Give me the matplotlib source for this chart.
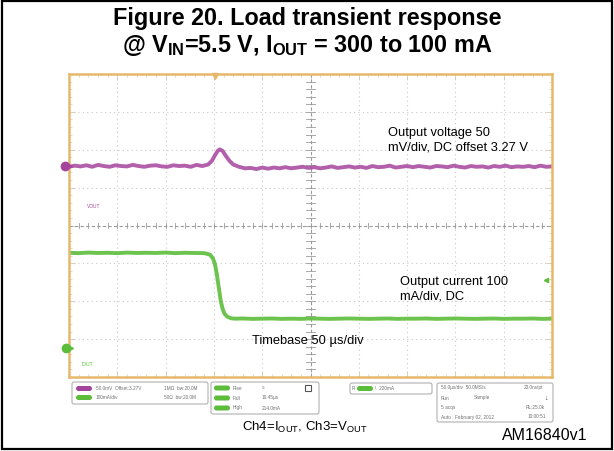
import numpy as np
import matplotlib
matplotlib.use("Agg")
import matplotlib.pyplot as plt
from matplotlib.patches import Rectangle, FancyBboxPatch

plt.rcParams['font.family'] = ['Liberation Sans', 'DejaVu Sans']
plt.rcParams['mathtext.fontset'] = 'custom'
plt.rcParams['mathtext.rm'] = 'Liberation Sans'
plt.rcParams['mathtext.bf'] = 'Liberation Sans:bold'

# scope traces, time in us
vout_t = [0, 6, 12, 18, 24, 30, 36, 42, 48, 54, 60, 66, 72, 78, 84, 90, 96, 102, 108, 114,
          120, 126, 132, 138, 144,
          148, 151, 154, 156, 159, 162, 166, 170,
          176, 182, 188, 194, 200, 206, 212, 218, 224, 230, 236, 242, 248, 254, 260, 266,
          272, 278, 284, 290, 296, 302, 308, 314, 320, 326, 332, 338, 344, 350, 356, 362,
          368, 374, 380, 386, 392, 398, 404, 410, 416, 422, 428, 434, 440, 446, 452, 458,
          464, 470, 476, 482, 488, 494, 500]
# deviation from 3.27 V offset, mV
vout_mv = [0, 1.5, 0.5, 2, 0, 2.5, 1, 0, 2, 1, 0.5, 2.5, 1, 0, 1.5, 2, 0.5, 0, 2, 1,
           1.5, 0, 2.5, 1, 3,
           8, 15, 21, 23, 21, 15, 8, 3,
           0, -2, -1.5, -3, -1, -2.5, -1, -2, -0.5, -2, -1, 0, -1.5, -0.5, -2, -1,
           0.5, -1.5, -0.5, 0.5, -1, 0, -1.5, 1, -0.5, 0, 1.5, -1, 0, 1, -0.5, 1,
           0, -1, 1, 0.5, -0.5, 1.5, 0, -1, 1, 0, 0.5, -1, 1, 0, 1.5, -0.5,
           0.5, 0, 1, -0.5, 1.5, 0, 0.5]

iout_t = [0, 10, 20, 30, 40, 50, 60, 70, 80, 90, 100, 110, 120, 130, 140,
          146, 149, 151, 153, 155, 157, 159, 161, 164, 168,
          172, 180, 190, 200, 210, 220, 230, 240, 250, 260, 270, 280, 290, 300, 310, 320,
          330, 340, 350, 360, 370, 380, 390, 400, 410, 420, 430, 440, 450, 460, 470, 480,
          490, 500]
iout_ma = [251, 250, 251.5, 250.5, 251, 250, 251.5, 250.5, 251, 250.5, 251.5, 250, 251, 250.5, 250,
           246, 236, 222, 195, 160, 125, 103, 90, 82, 78,
           77, 77.5, 76.5, 77, 77.5, 76.5, 77, 76.5, 77.5, 77, 76.5, 77, 77.5, 77, 76.5, 77,
           77.5, 76.5, 77, 77, 77.5, 76.5, 77, 77.5, 77, 76.5, 77, 77.5, 76.5, 77, 77,
           77.5, 76.5, 77]

V_PER_DIV = 50.0
I_PER_DIV = 100.0
V_POS = 1.55
I_POS = -3.23

W, H = 614, 451
fig = plt.figure(figsize=(W / 100, H / 100), dpi=100)

ORANGE = '#e6b86a'
PURPLE = '#a5449c'
GREEN = '#5cbd3a'

# scope screen
ax = fig.add_axes([69 / W, (H - 377) / H, 483 / W, 303 / H])
ax.set_xlim(0, 500)
ax.set_ylim(-4, 4)
for s in ax.spines.values():
    s.set_color(ORANGE)
    s.set_linewidth(1.8)
ax.set_xticks(np.arange(0, 501, 50))
ax.set_xticks(np.arange(0, 501, 10), minor=True)
ax.set_yticks(np.arange(-4, 5, 1))
ax.set_yticks(np.arange(-4, 4.01, 0.2), minor=True)
ax.tick_params(which='both', direction='in', color='#d9c9a8', labelbottom=False,
               labelleft=False, top=True, right=True)
ax.tick_params(which='major', length=4, width=0.6)
ax.tick_params(which='minor', length=2, width=0.5)

for x in range(50, 500, 50):
    if x == 250:
        continue
    ax.axvline(x, color='#c8c8c8', lw=0.8, ls=(0, (1, 3)))
for y in range(-3, 4):
    if y == 0:
        continue
    ax.axhline(y, color='#c8c8c8', lw=0.8, ls=(0, (1, 3)))
ax.axvline(250, color='#9a9a9a', lw=0.8, ls=(0, (3, 2)))
ax.axhline(0, color='#9a9a9a', lw=0.8, ls=(0, (3, 2)))
for x in np.arange(10, 500, 10):
    ax.plot([x, x], [-0.06, 0.06], color='#9a9a9a', lw=0.6)
for y in np.arange(-3.8, 4, 0.2):
    ax.plot([245, 255], [y, y], color='#9a9a9a', lw=0.6)

vdiv = V_POS + np.array(vout_mv) / V_PER_DIV
idiv = I_POS + np.array(iout_ma) / I_PER_DIV
ax.plot(vout_t, vdiv, color=PURPLE, lw=2.8, alpha=0.85, solid_capstyle='round')
ax.plot(iout_t, idiv, color=GREEN, lw=2.8, alpha=0.9, solid_capstyle='round')

# overlay in pixel coordinates
ov = fig.add_axes([0, 0, 1, 1], zorder=5)
ov.set_xlim(0, W)
ov.set_ylim(H, 0)
ov.axis('off')
ov.patch.set_visible(False)

ov.add_patch(Rectangle((1.5, 1), 610, 448, fill=False, ec='black', lw=1.6))

ov.text(307, 18, 'Figure 20. Load transient response', ha='center', va='center',
        fontsize=16.8, fontweight='bold')
ov.text(307, 45, r'@ V$_{\mathbf{IN}}$=5.5 V, I$_{\mathbf{OUT}}$ = 300 to 100 mA', ha='center',
        va='center', fontsize=16.8, fontweight='bold')

# channel markers
ov.plot(65, 166, 'o', ms=6, color=PURPLE)
ov.plot(69, 166, '>', ms=4, color=PURPLE)
ov.plot(66, 348, 'o', ms=6, color=GREEN)
ov.plot(70, 348, '>', ms=4, color=GREEN)
ov.plot(215, 76, 'v', ms=4, color=ORANGE)
ov.plot(546, 280, '<', ms=3, color=GREEN)
ov.text(87, 207, 'VOUT', fontsize=3.5, color=PURPLE, va='center')
ov.text(82, 364, 'IOUT', fontsize=3.5, color=GREEN, va='center')

ov.text(388, 127, 'Output voltage 50\nmV/div, DC offset 3.27 V', fontsize=9.3,
        va='top', linespacing=1.25)
ov.text(400, 276, 'Output current 100\nmA/div, DC', fontsize=9.3,
        va='top', linespacing=1.25)
ov.text(252, 341, 'Timebase 50 \u00b5s/div', fontsize=9.3, va='center')

# info panel
def box(x0, y0, x1, y1):
    ov.add_patch(FancyBboxPatch((x0, y0), x1 - x0, y1 - y0,
                                boxstyle='round,pad=0,rounding_size=2',
                                fc='white', ec='#b0b0b0', lw=0.8))

def pill(x, y, c):
    ov.add_patch(FancyBboxPatch((x, y - 2.5), 16, 5, boxstyle='round,pad=0,rounding_size=2.5',
                                fc=c, ec='none'))

tc = '#707070'
fs = 3.4
box(72, 382, 208, 404)
pill(76, 388.5, PURPLE)
pill(76, 397.5, GREEN)
ov.text(96, 388.5, '50.0mV  Offset:3.27V', fontsize=fs, color=tc, va='center')
ov.text(164, 388.5, '1M\u03a9  bw:20.0M', fontsize=fs, color=tc, va='center')
ov.text(96, 397.5, '100mA/div', fontsize=fs, color=tc, va='center')
ov.text(164, 397.5, '50\u03a9  bw:20.0M', fontsize=fs, color=tc, va='center')

box(211, 382, 319, 414)
for yy, lab, val in [(388, 'Rise', '\u2248'), (398, 'Fall', '10.45\u00b5s'), (408, 'High', '214.0mA')]:
    pill(214, yy, GREEN)
    ov.text(233, yy, lab, fontsize=fs, color=tc, va='center')
    ov.text(262, yy, val, fontsize=fs, color=tc, va='center')
ov.add_patch(Rectangle((305, 385), 6, 6, fill=False, ec='#555555', lw=0.8))

box(350, 383, 432, 394)
ov.text(352, 388.5, 'R', fontsize=fs, color=tc, va='center')
pill(357, 388.5, GREEN)
ov.text(375, 388.5, '\\  220mA', fontsize=fs, color=tc, va='center')

box(437, 383, 553, 422)
ov.text(441, 388, '50.0\u00b5s/div  50.0MS/s', fontsize=fs, color=tc, va='center')
ov.text(524, 388, '20.0ns/pt', fontsize=fs, color=tc, va='center')
ov.text(441, 398, 'Run', fontsize=fs, color=tc, va='center')
ov.text(474, 398, 'Sample', fontsize=fs, color=tc, va='center')
ov.text(546, 398, '\u2193', fontsize=5, color='#333333', va='center', ha='center')
ov.text(441, 407.5, '5 acqs', fontsize=fs, color=tc, va='center')
ov.text(526, 407.5, 'RL:25.0k', fontsize=fs, color=tc, va='center')
ov.text(441, 417, 'Auto   February 02, 2012', fontsize=fs, color=tc, va='center')
ov.text(528, 417, '10:00:51', fontsize=fs, color=tc, va='center')

ov.text(305, 427, r'Ch4=I$_{\mathrm{OUT}}$, Ch3=V$_{\mathrm{OUT}}$', ha='center',
        va='center', fontsize=9.5)
ov.text(587, 435, 'AM16840v1', ha='right', va='center', fontsize=11.5)

fig.savefig('out.png', dpi=100)
